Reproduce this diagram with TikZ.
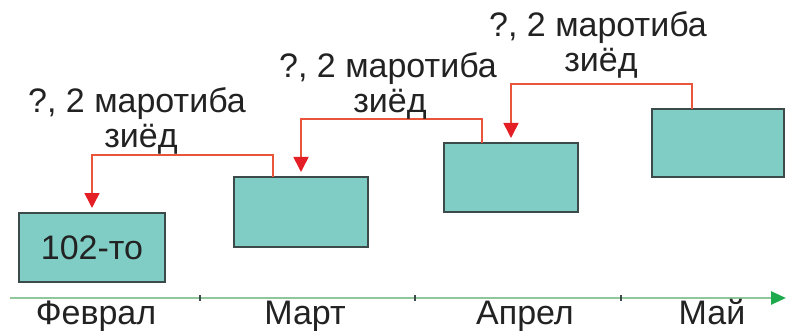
\documentclass[tikz,border=0pt]{standalone}
\usepackage{fontspec}
\setmainfont{Liberation Sans}
\usetikzlibrary{arrows.meta}
\definecolor{boxfill}{HTML}{80CDC5}
\definecolor{boxline}{HTML}{3C4A4A}
\definecolor{connred}{HTML}{E8553A}
\definecolor{tipred}{HTML}{E31E24}
\definecolor{axisgreen}{HTML}{8FC79B}
\definecolor{tipgreen}{HTML}{1DAA4C}
\definecolor{txt}{HTML}{222222}
\begin{document}
\begin{tikzpicture}[x=1pt,y=-1pt,
  bar/.style={draw=boxline, line width=1.3pt, fill=boxfill, inner sep=0pt, outer sep=0pt, text=txt, font=\fontsize{34}{37}\selectfont},
  conn/.style={draw=connred, line width=1.6pt, -{Triangle[width=15pt,length=15pt,color=tipred]}, shorten >=5pt},
  lbl/.style={anchor=base, inner sep=0pt, text=txt, font=\fontsize{34}{37}\selectfont},
  month/.style={anchor=base, inner sep=0pt, text=txt, font=\fontsize{34}{37}\selectfont},
  tick/.style={draw=boxline, line width=1.3pt}]
\useasboundingbox (0,0) rectangle (786,331);
% axis
\coordinate (a0) at (10,298);
\coordinate (a1) at (786,298);
\draw[draw=axisgreen, line width=2.6pt, -{Triangle[width=13pt,length=15pt,color=tipgreen]}] (a0) -- (a1);
\foreach \t/\x in {t1/200, t2/415, t3/621} {
  \coordinate (\t) at (\x,298);
  \draw[tick] ([yshift=3pt]\t) -- ([yshift=-3pt]\t);
}
% months
\node[month] (mfeb) at (96,324) {Феврал};
\node[month] (mmar) at (305,324) {Март};
\node[month] (mapr) at (525,324) {Апрел};
\node[month] (mmay) at (712,324) {Май};
% boxes
\node[bar, minimum width=146pt, minimum height=69pt] (feb) at (92,247.5) {102-то};
\node[bar, minimum width=134pt, minimum height=70pt] (mar) at (301,212) {};
\node[bar, minimum width=134pt, minimum height=69pt] (apr) at (511,177.5) {};
\node[bar, minimum width=132pt, minimum height=68pt] (may) at (718,143) {};
% connectors
\draw[conn] ([xshift=-28pt]mar.north) -- ++(0,-22) -| (feb.north);
\draw[conn] ([xshift=-29pt]apr.north) -- ++(0,-24) -| (mar.north);
\draw[conn] ([xshift=-26pt]may.north) -- ++(0,-25) -| (apr.north);
% labels
\node[lbl] (l1a) at (137,113) {?, 2 маротиба};
\node[lbl] (l1b) at (141,148) {зиёд};
\node[lbl] (l2a) at (388,78) {?, 2 маротиба};
\node[lbl] (l2b) at (390,113) {зиёд};
\node[lbl] (l3a) at (598,37) {?, 2 маротиба};
\node[lbl] (l3b) at (601,72) {зиёд};
\end{tikzpicture}
\end{document}
